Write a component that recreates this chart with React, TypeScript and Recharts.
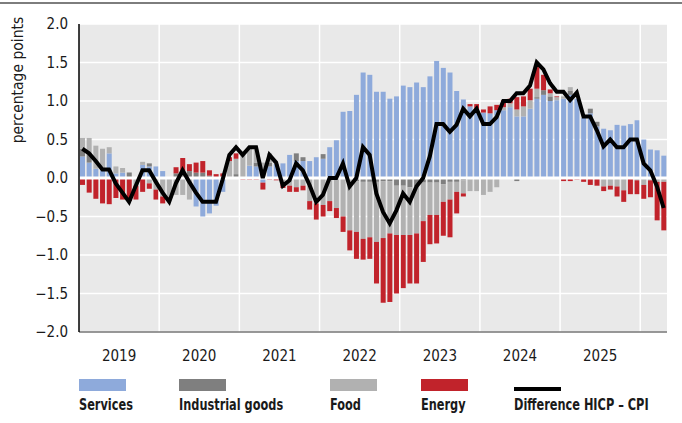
import React from 'react';
import { ComposedChart, Bar, Line, XAxis, YAxis, CartesianGrid, ReferenceLine } from 'recharts';

const FONT = "'DejaVu Sans Condensed', 'DejaVu Sans', sans-serif";
const LEGEND_FONT = "'DejaVu Sans Condensed', 'DejaVu Sans', sans-serif";

// Categories: months Jan 2019 .. Apr 2026
const startYear = 2019;
const monthCount = 88;
const months: string[] = Array.from({ length: monthCount }, (_, i) =>
  `${startYear + Math.floor(i / 12)}-${String((i % 12) + 1).padStart(2, '0')}`
);

const yearLabels = ['2019', '2020', '2021', '2022', '2023', '2024', '2025'];
const yearTicks = [6, 18, 30, 42, 54, 66, 78];
const yearBoundaries = [12, 24, 36, 48, 60, 72, 84];
const yTicks = [-2, -1.5, -1, -0.5, 0, 0.5, 1, 1.5, 2];

const services = [
  0.28, 0.2, 0.12, 0.1, 0.32, 0.06, 0.07, 0, 0, 0.17, 0.15, 0.15,
  0.09, 0, 0, 0, 0, -0.37, -0.5, -0.46, -0.36, -0.18, 0, 0,
  0, 0.16, 0.15, -0.06, 0.15, 0.18, 0.19, 0.3, 0.22, 0.22, 0.22, 0.27,
  0.25, 0.4, 0.49, 0.86, 0.87, 1.08, 1.37, 1.34, 1.12, 1.12, 1.03, 1.06,
  1.2, 1.18, 1.24, 1.18, 1.32, 1.52, 1.43, 1.37, 1.13, 1.02, 0.93, 0.9,
  0.85, 0.84, 0.88, 0.88, 0.92, 0.8, 0.8, 0.9, 1.03, 1.08, 1.0, 1.01,
  1.03, 1.08, 1.03, 0.78, 0.84, 0.67, 0.64, 0.62, 0.69, 0.68, 0.7, 0.75,
  0.5, 0.37, 0.36, 0.29,
];

const industrial = [
  0.1, 0.12, 0, 0, 0, 0, 0, 0.07, 0, 0, 0.04, 0,
  0, 0, 0.06, 0.09, 0.09, 0.07, 0.07, 0.03, 0, 0, 0, 0.05,
  0, 0, 0.05, 0, 0.05, 0, 0, 0, 0.1, 0.05, 0, 0,
  0.06, 0, 0, 0, 0, -0.04, -0.05, -0.05, -0.05, -0.04, -0.04, -0.1,
  -0.1, -0.12, -0.11, -0.06, -0.06, -0.06, -0.08, -0.05, -0.05, -0.03, -0.02, -0.02,
  -0.02, -0.02, 0, 0, 0, -0.04, 0, 0, 0.02, 0.06, 0.06, 0,
  0, 0.05, 0, 0, 0.06, 0.06, 0, 0, 0, 0, 0, 0,
  -0.02, 0, 0, 0,
];

const food = [
  0.14, 0.2, 0.3, 0.28, 0.08, 0.09, 0.06, 0, -0.1, 0.04, -0.07, -0.15,
  -0.24, -0.28, -0.22, -0.22, -0.28, 0, 0, 0, 0, 0, 0.22, 0.2,
  0.3, 0.22, 0.17, 0.2, 0.12, 0, -0.08, -0.1, -0.12, -0.1, -0.3, -0.33,
  -0.35, -0.3, -0.39, -0.5, -0.68, -0.66, -0.74, -0.72, -0.78, -0.74, -0.68, -0.64,
  -0.64, -0.62, -0.61, -0.5, -0.42, -0.42, -0.23, -0.23, -0.13, -0.17, -0.15, -0.15,
  -0.2, -0.16, -0.12, 0.04, 0.05, 0.09, 0.13, 0.11, 0.11, 0, 0.04, 0.04,
  0.03, 0.05, 0, 0, 0, 0, -0.11, -0.1, -0.11, -0.16, 0, -0.03,
  -0.07, -0.03, -0.05, -0.05,
];

const energy = [
  -0.09, -0.19, -0.27, -0.33, -0.34, -0.26, -0.28, -0.3, -0.18, -0.18, -0.07, -0.13,
  -0.09, 0, 0.08, 0.17, 0.09, 0.13, 0.15, 0.07, 0.05, 0.06, 0.05, 0.07,
  -0.02, -0.02, -0.02, -0.09, -0.02, -0.03, -0.05, -0.08, -0.06, -0.06, -0.11, -0.21,
  -0.15, -0.13, -0.13, -0.2, -0.26, -0.35, -0.27, -0.28, -0.54, -0.84, -0.89, -0.76,
  -0.69, -0.63, -0.65, -0.53, -0.38, -0.37, -0.44, -0.49, -0.28, -0.04, 0.03, 0.06,
  0.04, 0.09, 0.07, 0.09, 0.06, 0.16, 0.13, 0.15, 0.28, 0.2, 0.05, 0.01,
  -0.04, -0.04, -0.02, -0.05, -0.09, -0.1, -0.06, -0.05, -0.13, -0.15, -0.21, -0.18,
  -0.18, -0.22, -0.5, -0.63,
];

const difference = [
  0.38, 0.32, 0.22, 0.11, 0.11, -0.07, -0.19, -0.31, -0.1, 0.1, 0.1, -0.05,
  -0.19, -0.31, -0.07, 0.1, -0.05, -0.19, -0.31, -0.31, -0.31, -0.02, 0.3, 0.4,
  0.3, 0.4, 0.4, 0, 0.3, 0.2, -0.1, -0.03, 0.19, 0.1, -0.09, -0.31,
  -0.22, 0, 0, 0.19, -0.11, 0, 0.4, 0.3, -0.2, -0.44, -0.59, -0.42,
  -0.2, -0.31, -0.11, 0, 0.28, 0.7, 0.7, 0.6, 0.69, 0.9, 0.8, 0.9,
  0.7, 0.7, 0.79, 1.0, 1.0, 1.1, 1.1, 1.2, 1.5, 1.41, 1.23, 1.12,
  1.12, 1.01, 1.11, 0.8, 0.8, 0.62, 0.41, 0.5, 0.4, 0.4, 0.5, 0.5,
  0.19, 0.1, -0.11, -0.39,
];

const seriesNames = ['Services', 'Industrial goods', 'Food', 'Energy', 'Difference HICP – CPI'];
const seriesColors = ['#8eaadb', '#7f7f7f', '#b1b1b1', '#c1232b', '#000000'];

const data = months.map((m, i) => ({
  month: m,
  x: i + 0.5,
  services: services[i],
  industrial: industrial[i],
  food: food[i],
  energy: energy[i],
  diff: difference[i],
}));

const legendLeft = [79, 179, 330, 421, 514];

const YLabel = () => (
  <text
    x={18}
    y={80}
    transform="rotate(-90 18 80)"
    textAnchor="middle"
    dominantBaseline="central"
    fontSize={15.5}
    fontFamily={FONT}
    fill="#1a1a1a"
  >
    percentage points
  </text>
);

export default function App() {
  const tickStyle = { fill: '#1a1a1a', fontSize: 15, fontFamily: FONT };
  return (
    <div style={{ position: 'absolute', left: 0, top: 0, width: 682, height: 423, background: '#fff' }}>
      <div style={{ position: 'absolute', left: 0, top: 2, width: 682, height: 2, background: '#7d7d7d' }} />
      <ComposedChart
        width={682}
        height={423}
        data={data}
        stackOffset="sign"
        margin={{ top: 24, right: 15, bottom: 51, left: 0 }}
      >
        <CartesianGrid vertical={false} stroke="#ffffff" strokeWidth={1.5} fill="#e9e9e9" fillOpacity={1} />
        {yearBoundaries.map((b) => (
          <ReferenceLine key={b} x={b} stroke="#ffffff" strokeWidth={1.5} />
        ))}
        <XAxis
          type="number"
          dataKey="x"
          domain={[0, monthCount]}
          ticks={yearTicks}
          interval={0}
          tickFormatter={(v: number) => yearLabels[yearTicks.indexOf(v)]}
          tickLine={false}
          axisLine={{ stroke: '#333333', strokeWidth: 1 }}
          tick={tickStyle}
          tickMargin={12}
          height={40}
        />
        <YAxis
          domain={[-2, 2]}
          ticks={yTicks}
          interval={0}
          width={79}
          tickFormatter={(v: number) => v.toFixed(1).replace('-', '\u2212')}
          tickLine={false}
          tickSize={0}
          tickMargin={11}
          axisLine={{ stroke: '#000000', strokeWidth: 1.5 }}
          tick={tickStyle}
          label={{ content: YLabel }}
        />
        <Bar dataKey="services" stackId="s" fill={seriesColors[0]} barSize={5} isAnimationActive={false} />
        <Bar dataKey="industrial" stackId="s" fill={seriesColors[1]} barSize={5} isAnimationActive={false} />
        <Bar dataKey="food" stackId="s" fill={seriesColors[2]} barSize={5} isAnimationActive={false} />
        <Bar dataKey="energy" stackId="s" fill={seriesColors[3]} barSize={5} isAnimationActive={false} />
        <ReferenceLine y={0} stroke="#ffffff" strokeWidth={3} />
        <Line
          dataKey="diff"
          type="linear"
          stroke={seriesColors[4]}
          strokeWidth={4}
          dot={false}
          activeDot={false}
          isAnimationActive={false}
        />
      </ComposedChart>
      {seriesNames.map((name, i) => (
        <div key={name}>
          {i < 4 ? (
            <div
              style={{
                position: 'absolute',
                left: legendLeft[i],
                top: 379,
                width: 47,
                height: 12,
                background: seriesColors[i],
              }}
            />
          ) : (
            <div
              style={{
                position: 'absolute',
                left: legendLeft[i],
                top: 387,
                width: 47,
                height: 4,
                background: seriesColors[i],
              }}
            />
          )}
          <div
            style={{
              position: 'absolute',
              left: legendLeft[i],
              top: 396,
              fontFamily: LEGEND_FONT,
              fontWeight: 'bold',
              fontSize: 15,
              color: '#1a1a1a',
              whiteSpace: 'nowrap',
              lineHeight: '18px',
              transform: 'scaleX(0.84)',
              transformOrigin: 'left center',
            }}
          >
            {name}
          </div>
        </div>
      ))}
    </div>
  );
}
